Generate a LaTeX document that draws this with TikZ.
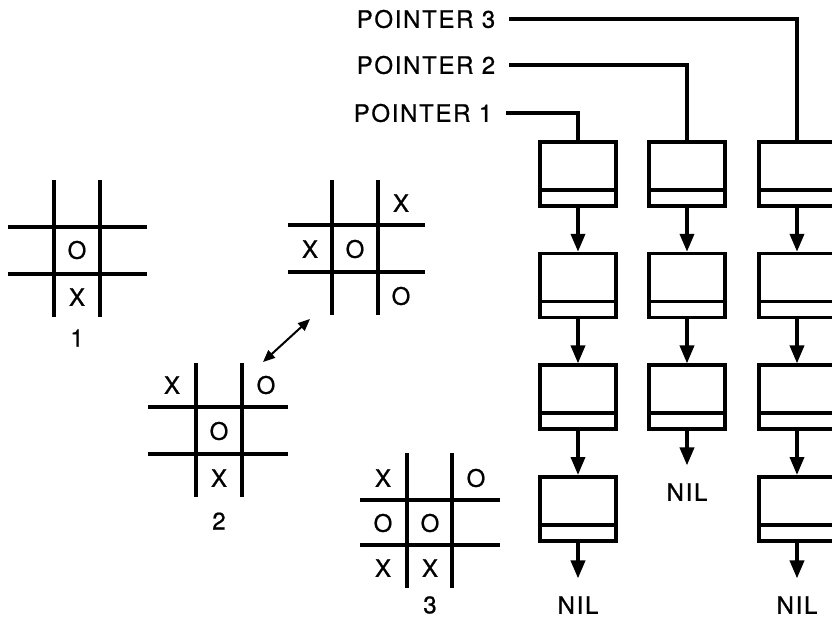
\documentclass[tikz,border=0pt]{standalone}
\usepackage{fontspec}
\newfontfamily\lettering{TeX Gyre Heros}[LetterSpace=7, FakeBold=0.8]
\usepackage{tikz}
\usetikzlibrary{arrows.meta, positioning}

\begin{document}
\begin{tikzpicture}[
    x=0.5pt, y=-0.5pt,
    line width=1.8pt,
    node distance=22pt,
    every node/.style={font=\lettering\fontsize{12}{14}\selectfont, inner sep=0pt},
    cell/.style={rectangle, draw, minimum width=38pt, minimum height=32pt,
        path picture={\draw ([yshift=8pt]path picture bounding box.south west) -- ([yshift=8pt]path picture bounding box.south east);}},
    link/.style={-{Triangle[length=9pt, width=7pt]}},
    nil/.style={shorten >=8pt},
]
\useasboundingbox (0,0) rectangle (832,618);

% Board 1
\draw (54,180) -- (54,317);
\draw (100,180) -- (100,317);
\draw (8,227) -- (147,227);
\draw (8,274) -- (147,274);
\node (b1o) at (77,250) {O};
\node (b1x) at (77,297) {X};
\node (b1lab) at (77,338) {1};

% Board with X X O O
\draw (332,180) -- (332,315);
\draw (378,180) -- (378,315);
\draw (288,225) -- (425,225);
\draw (288,272) -- (425,272);
\node (bmxa) at (401,203) {X};
\node (bmxb) at (310,249) {X};
\node (bmoa) at (355,249) {O};
\node (bmob) at (401,296) {O};

% Board 2
\draw (196,363) -- (196,497);
\draw (242,363) -- (242,497);
\draw (148,407) -- (288,407);
\draw (148,454) -- (288,454);
\node (b2xa) at (172,385) {X};
\node (b2oa) at (266,385) {O};
\node (b2ob) at (219,431) {O};
\node (b2xb) at (219,478) {X};
\node (b2lab) at (219,521) {2};

% Board 3
\draw (407,453) -- (407,588);
\draw (452,453) -- (452,588);
\draw (360,500) -- (500,500);
\draw (360,545) -- (500,545);
\node (b3xa) at (383,478) {X};
\node (b3oa) at (476,478) {O};
\node (b3ob) at (383,523) {O};
\node (b3oc) at (430,523) {O};
\node (b3xb) at (383,568) {X};
\node (b3xc) at (430,568) {X};
\node (b3lab) at (430,605) {3};

% Transfer
\coordinate (swapa) at (310,319);
\coordinate (swapb) at (263,362);
\draw [{Triangle[length=6pt, width=5pt]}-{Triangle[length=6pt, width=5pt]}, line width=1pt] (swapa) -- (swapb);

% Lists
\node (a1) [cell] at (578,174) {};
\node (a2) [cell, below=of a1] {};
\node (a3) [cell, below=of a2] {};
\node (a4) [cell, below=of a3] {};
\node (b1) [cell] at (687,174) {};
\node (b2) [cell, below=of b1] {};
\node (b3) [cell, below=of b2] {};
\node (c1) [cell] at (797,174) {};
\node (c2) [cell, below=of c1] {};
\node (c3) [cell, below=of c2] {};
\node (c4) [cell, below=of c3] {};

\node (nila) at (578,605) {NIL};
\node (nilb) at (687,492) {NIL};
\node (nilc) at (797,605) {NIL};

% Pointers
\node (p1) [anchor=east] at (494,113) {POINTER 1};
\node (p2) [anchor=east] at (497,65) {POINTER 2};
\node (p3) [anchor=east] at (497,19) {POINTER 3};

% Arrows
\draw [shorten <=6pt] (p1.east) -| (a1.north);
\draw [shorten <=6pt] (p2.east) -| (b1.north);
\draw [shorten <=6pt] (p3.east) -| (c1.north);
\draw [link] (a1) -- (a2);
\draw [link] (a2) -- (a3);
\draw [link] (a3) -- (a4);
\draw [link, nil] (a4) -- (nila);
\draw [link] (b1) -- (b2);
\draw [link] (b2) -- (b3);
\draw [link, nil] (b3) -- (nilb);
\draw [link] (c1) -- (c2);
\draw [link] (c2) -- (c3);
\draw [link] (c3) -- (c4);
\draw [link, nil] (c4) -- (nilc);

\end{tikzpicture}
\end{document}
